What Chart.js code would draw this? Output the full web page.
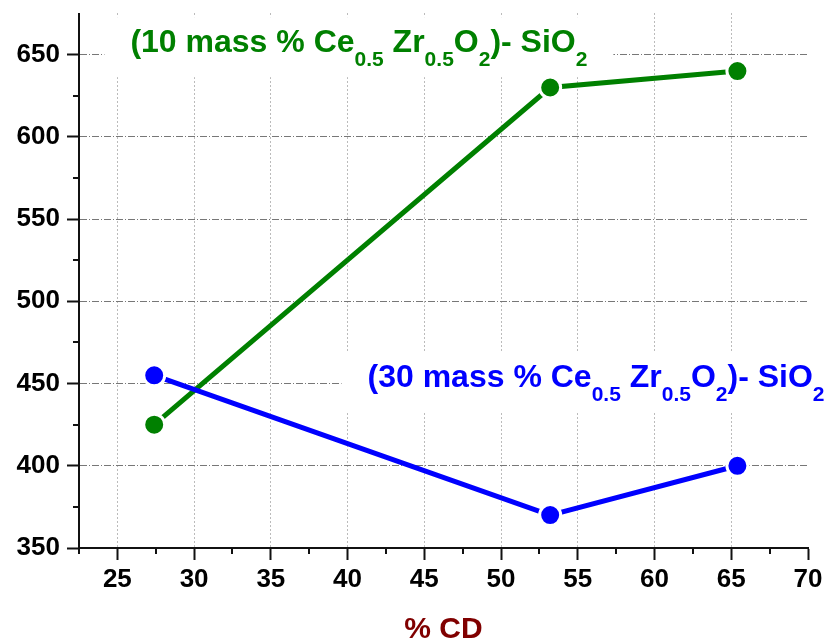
<!DOCTYPE html>
<html>
<head>
<meta charset="utf-8">
<script src="https://cdn.jsdelivr.net/npm/chart.js@4"></script>
<style>
  html, body { margin: 0; padding: 0; background: #fff; }
  #wrap { width: 830px; height: 643px; position: relative; }
</style>
</head>
<body>
<div id="wrap"><canvas id="surfaceChart"></canvas></div>
<script>
// % CD on the x axis
const cdPercent = [27.4, 53.2, 65.4];
const area10 = [425, 630, 640];   // 10 mass % Ce0.5Zr0.5O2 - SiO2
const area30 = [455, 370, 400];   // 30 mass % Ce0.5Zr0.5O2 - SiO2

const xTicks = [25, 30, 35, 40, 45, 50, 55, 60, 65, 70];
const yTicks = [350, 400, 450, 500, 550, 600, 650];
const xMinor = [22.5, 27.5, 32.5, 37.5, 42.5, 47.5, 52.5, 57.5, 62.5, 67.5];
const yMinor = [375, 425, 475, 525, 575, 625];

// rich text for the two series labels: [text, isSubscript]
const label10 = [['(10 mass % Ce', 0], ['0.5', 1], [' Zr', 0], ['0.5', 1], ['O', 0], ['2', 1], [')- SiO', 0], ['2', 1]];
const label30 = [['(30 mass % Ce', 0], ['0.5', 1], [' Zr', 0], ['0.5', 1], ['O', 0], ['2', 1], [')- SiO', 0], ['2', 1]];

const FONT = '"Liberation Sans", Arial, sans-serif';
const MAIN_FONT = 'bold 32px ' + FONT;
const SUB_FONT = 'bold 21px ' + FONT;

function toPoints(xs, ys) {
    return xs.map((x, i) => ({ x: x, y: ys[i] }));
}

function drawRich(ctx, x, y, segs, color) {
    ctx.fillStyle = color;
    ctx.textBaseline = 'alphabetic';
    ctx.textAlign = 'left';
    let cx = x;
    segs.forEach(([t, isSub]) => {
        ctx.font = isSub ? SUB_FONT : MAIN_FONT;
        ctx.fillText(t, cx, isSub ? y + 14 : y);
        cx += ctx.measureText(t).width;
    });
}

function measureRich(ctx, segs) {
    let w = 0;
    segs.forEach(([t, isSub]) => {
        ctx.font = isSub ? SUB_FONT : MAIN_FONT;
        w += ctx.measureText(t).width;
    });
    return w;
}

// series labels sit on white boxes that hide the grid behind them
const labelPlugin = {
    id: 'seriesLabels',
    beforeDatasetsDraw(chart) {
        const ctx = chart.ctx;
        const xs = chart.scales.x, ys = chart.scales.y;
        const items = [
            { segs: label10, color: '#008000', x: xs.getPixelForValue(25.85), y: ys.getPixelForValue(651.5) },
            { segs: label30, color: '#0000ff', x: xs.getPixelForValue(41.3), y: ys.getPixelForValue(447.6) }
        ];
        ctx.save();
        items.forEach(it => {
            const w = measureRich(ctx, it.segs);
            ctx.fillStyle = '#fff';
            ctx.fillRect(it.x - 26, it.y - 35, w + 52, 60);
            drawRich(ctx, it.x, it.y, it.segs, it.color);
        });
        ctx.restore();
    },
    afterDraw(chart) {
        // minor tick marks
        const ctx = chart.ctx;
        const xs = chart.scales.x, ys = chart.scales.y;
        const area = chart.chartArea;
        ctx.save();
        ctx.strokeStyle = '#111';
        ctx.lineWidth = 2;
        ctx.beginPath();
        xMinor.forEach(v => {
            const px = Math.round(xs.getPixelForValue(v));
            ctx.moveTo(px, area.bottom);
            ctx.lineTo(px, area.bottom + 6);
        });
        yMinor.forEach(v => {
            const py = Math.round(ys.getPixelForValue(v));
            ctx.moveTo(area.left, py);
            ctx.lineTo(area.left - 6, py);
        });
        ctx.stroke();
        ctx.restore();
    }
};

const ctx = document.getElementById('surfaceChart').getContext('2d');
new Chart(ctx, {
    type: 'line',
    data: {
        datasets: [{
            label: '30 mass %',
            data: toPoints(cdPercent, area30),
            borderColor: '#0000ff',
            backgroundColor: '#0000ff',
            borderWidth: 5,
            pointRadius: 10.5,
            pointBorderWidth: 3,
            pointBorderColor: '#fff',
            pointBackgroundColor: '#0000ff',
            order: 0
        }, {
            label: '10 mass %',
            data: toPoints(cdPercent, area10),
            borderColor: '#008000',
            backgroundColor: '#008000',
            borderWidth: 5,
            pointRadius: 10.5,
            pointBorderWidth: 3,
            pointBorderColor: '#fff',
            pointBackgroundColor: '#008000',
            order: 1
        }]
    },
    options: {
        responsive: true,
        maintainAspectRatio: false,
        animation: false,
        layout: { padding: { top: 12, right: 22, left: 0, bottom: 0 } },
        plugins: {
            legend: { display: false },
            tooltip: { enabled: false }
        },
        scales: {
            x: {
                type: 'linear',
                min: 22.5,
                max: 70,
                afterBuildTicks: s => { s.ticks = xTicks.map(v => ({ value: v })); },
                afterFit: s => { s.height = 95; },
                ticks: {
                    color: '#000',
                    padding: 4,
                    maxRotation: 0,
                    font: { family: FONT, size: 26, weight: 'bold' }
                },
                grid: {
                    color: c => (c.tick && c.tick.value === 70) ? 'rgba(0,0,0,0)' : '#777',
                    lineWidth: 1,
                    drawTicks: true,
                    tickLength: 12,
                    tickColor: '#111',
                    tickWidth: 2
                },
                border: { display: true, color: '#111', width: 2, dash: [1, 3] },
                title: {
                    display: true,
                    text: '% CD',
                    color: '#800000',
                    font: { family: FONT, size: 30, weight: 'bold' },
                    padding: { top: 0, bottom: -5 }
                }
            },
            y: {
                type: 'linear',
                min: 350,
                max: 675,
                afterBuildTicks: s => { s.ticks = yTicks.map(v => ({ value: v })); },
                afterFit: s => { s.width = 79; s.paddingTop = 0; s.paddingBottom = 0; },
                ticks: {
                    color: '#000',
                    padding: 7,
                    font: { family: FONT, size: 26, weight: 'bold' }
                },
                grid: {
                    color: c => (c.tick && c.tick.value === 350) ? 'rgba(0,0,0,0)' : '#777',
                    lineWidth: 1,
                    drawTicks: true,
                    tickLength: 12,
                    tickColor: '#111',
                    tickWidth: 2
                },
                border: { display: true, color: '#111', width: 2, dash: [7, 2, 1, 2] }
            }
        }
    },
    plugins: [labelPlugin]
});
</script>
</body>
</html>
